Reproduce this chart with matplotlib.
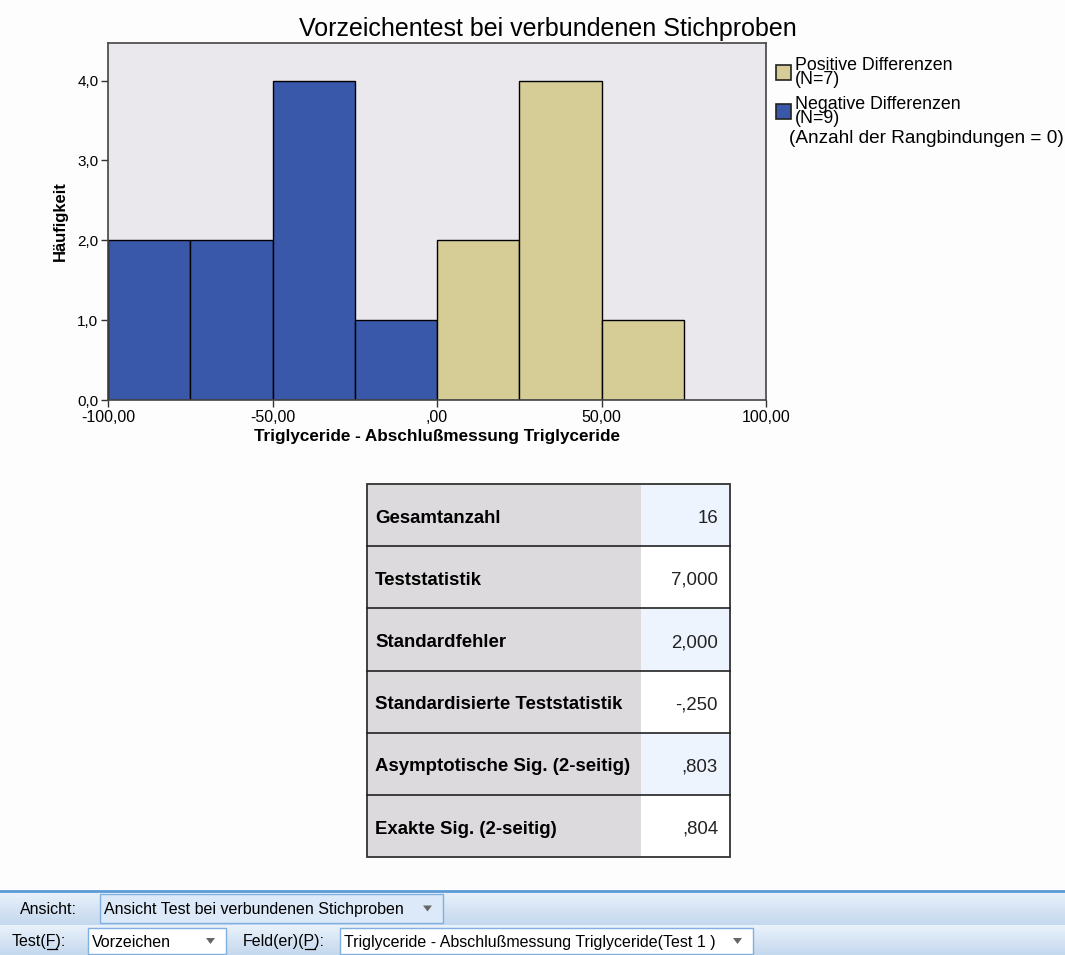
import numpy as np
import matplotlib
matplotlib.use('Agg')
import matplotlib.pyplot as plt
from matplotlib.patches import Rectangle, Polygon

plt.rcParams['font.family'] = ['Liberation Sans', 'DejaVu Sans']

# histogram of the paired differences
bin_edges = [-100, -75, -50, -25, 0, 25, 50, 75]
neg_counts = [2, 2, 4, 1]
pos_counts = [2, 4, 1]
x_ticks = [-100, -50, 0, 50, 100]
x_tick_labels = ['-100,00', '-50,00', ',00', '50,00', '100,00']
y_ticks = [0, 1, 2, 3, 4]
y_tick_labels = ['0,0', '1,0', '2,0', '3,0', '4,0']
legend_labels = ['Positive Differenzen\n(N=7)', 'Negative Differenzen\n(N=9)']
ties_note = '(Anzahl der Rangbindungen = 0)'

# result table
row_labels = ['Gesamtanzahl', 'Teststatistik', 'Standardfehler',
              'Standardisierte Teststatistik', 'Asymptotische Sig. (2-seitig)',
              'Exakte Sig. (2-seitig)']
row_values = ['16', '7,000', '2,000', '-,250', ',803', ',804']

BLUE = '#3a58a9'
TAN = '#d5cd95'
W, H = 1065, 955

fig = plt.figure(figsize=(W / 100, H / 100), dpi=100)
fig.patch.set_facecolor('#fcfdfc')

# full-figure canvas in pixel units for the table and toolbar
bg = fig.add_axes([0, 0, 1, 1])
bg.set_xlim(0, W)
bg.set_ylim(H, 0)
bg.axis('off')


def px_axes(x0, y0, x1, y1):
    return fig.add_axes([x0 / W, 1 - y1 / H, (x1 - x0) / W, (y1 - y0) / H])


n_neg = len(neg_counts)
ax = px_axes(108, 43, 766, 400)
ax.set_facecolor('#eae8ec')
ax.bar(bin_edges[:n_neg], neg_counts, width=25, align='edge', color=BLUE,
       edgecolor='black', linewidth=1)
ax.bar(bin_edges[n_neg:n_neg + len(pos_counts)], pos_counts, width=25, align='edge',
       color=TAN, edgecolor='black', linewidth=1)
ax.set_xlim(-100, 100)
ax.set_ylim(0, 4.47)
ax.set_xticks(x_ticks)
ax.set_xticklabels(x_tick_labels, fontsize=11.5)
ax.set_yticks(y_ticks)
ax.set_yticklabels(y_tick_labels, fontsize=11)
ax.tick_params(length=5, width=1, color='#333333', pad=2)
for s in ax.spines.values():
    s.set_color('#444444')
    s.set_linewidth(1.2)
ax.set_xlabel('Triglyceride - Abschlußmessung Triglyceride', fontsize=12.3,
              fontweight='bold', labelpad=3)
ax.set_ylabel('Häufigkeit', fontsize=12, fontweight='bold', labelpad=7)
bg.text(548, 29, 'Vorzeichentest bei verbundenen Stichproben', fontsize=18,
        ha='center', va='center')

# legend beside the plot
for (y, col, lab) in [(65, TAN, legend_labels[0]), (104, BLUE, legend_labels[1])]:
    bg.add_patch(Rectangle((776, y), 15, 15, facecolor=col, edgecolor='#222222', lw=1.2))
    bg.text(795, y - 8, lab, fontsize=12.8, va='top', ha='left', linespacing=0.8)
bg.text(789, 130, ties_note, fontsize=13.7, va='top', ha='left', clip_on=False)

# result table
tx0, tx1, tsplit = 367, 730, 641
ty0, row_h = 484, 62.2
for i, (lab, val) in enumerate(zip(row_labels, row_values)):
    y = ty0 + i * row_h
    bg.add_patch(Rectangle((tx0, y), tsplit - tx0, row_h, facecolor='#dddadd', lw=0))
    bg.add_patch(Rectangle((tsplit, y), tx1 - tsplit, row_h,
                           facecolor='#edf4fd' if i % 2 == 0 else 'white', lw=0))
    bg.text(375, y + row_h / 2 + 3, lab, fontsize=13.4, fontweight='bold',
            va='center', ha='left')
    bg.text(718, y + row_h / 2 + 3, val, fontsize=13.4, va='center', ha='right',
            color='#222222')
    if i > 0:
        bg.plot([tx0, tx1], [y, y], color='#222222', lw=1.2)
bg.add_patch(Rectangle((tx0, ty0), tx1 - tx0, row_h * len(row_labels),
                       facecolor='none', edgecolor='#333333', lw=1.3))

# toolbar at the bottom
grad = np.linspace(0, 1, 50)[:, None]
cmap = matplotlib.colors.LinearSegmentedColormap.from_list('tb', ['#eaf2fb', '#c4d8ee'])
bg.imshow(grad, cmap=cmap, aspect='auto', extent=(0, W, 925, 891), zorder=0)
bg.imshow(grad, cmap=cmap, aspect='auto', extent=(0, W, 955, 925), zorder=0)
bg.plot([0, W], [891, 891], color='#5b9bd5', lw=2)
bg.set_xlim(0, W)
bg.set_ylim(H, 0)

renderer = fig.canvas.get_renderer()


def label_with_key(x, y, text, key_idx, size=11.5):
    # toolbar label with the mnemonic letter underlined
    bg.text(x, y, text, fontsize=size, va='center', ha='left')
    pre = bg.text(x, y, text[:key_idx], fontsize=size, va='center', ha='left')
    upto = bg.text(x, y, text[:key_idx + 1], fontsize=size, va='center', ha='left')
    inv = bg.transData.inverted()
    x_a = inv.transform(pre.get_window_extent(renderer).get_points())[1, 0]
    x_b = inv.transform(upto.get_window_extent(renderer).get_points())[1, 0]
    pre.remove()
    upto.remove()
    bg.plot([x_a, x_b], [y + 8, y + 8], color='black', lw=0.9)


def combo(x0, x1, y0, y1, text, face):
    bg.add_patch(Rectangle((x0, y0), x1 - x0, y1 - y0, facecolor=face,
                           edgecolor='#7fb0e0', lw=1, zorder=2))
    bg.text(x0 + 4, (y0 + y1) / 2 + 1, text, fontsize=11.5, va='center', ha='left', zorder=3)
    ax_ = x1 - 20
    cy = (y0 + y1) / 2
    bg.add_patch(Polygon([[ax_, cy - 3], [ax_ + 9, cy - 3], [ax_ + 4.5, cy + 3]],
                         facecolor='#666666', lw=0, zorder=3))


bg.text(20, 909, 'Ansicht:', fontsize=11.5, va='center', ha='left')
combo(100, 443, 894, 923, 'Ansicht Test bei verbundenen Stichproben', '#dce9f8')
label_with_key(12, 941, 'Test(F):', 5)
combo(88, 226, 928, 954, 'Vorzeichen', 'white')
label_with_key(243, 941, 'Feld(er)(P):', 9)
combo(340, 753, 928, 954, 'Triglyceride - Abschlußmessung Triglyceride(Test 1 )', 'white')

fig.savefig('out.png', dpi=100, facecolor=fig.get_facecolor())
